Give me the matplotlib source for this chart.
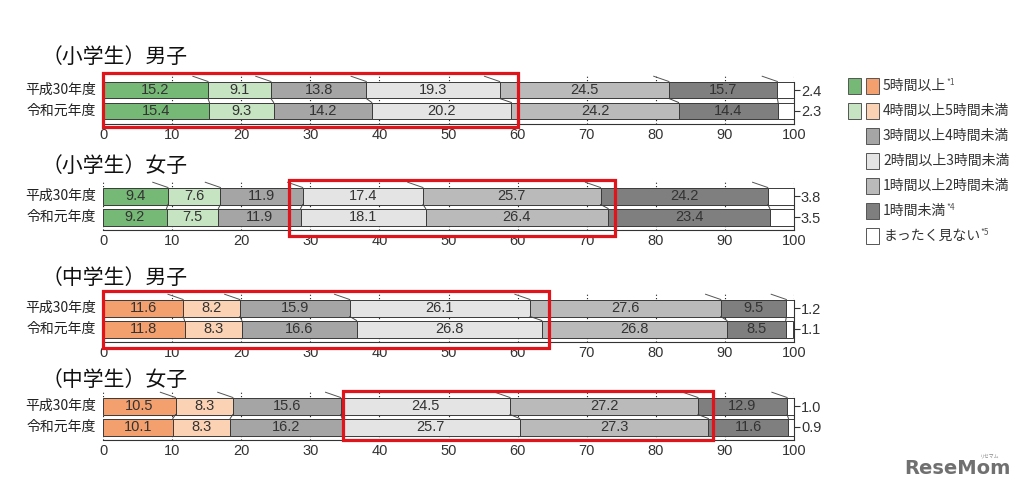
import numpy as np
import matplotlib.pyplot as plt
from matplotlib.patches import Rectangle

plt.rcParams['font.family'] = ['Noto Sans CJK JP', 'DejaVu Sans']

categories = ['5時間以上', '4時間以上5時間未満', '3時間以上4時間未満', '2時間以上3時間未満',
              '1時間以上2時間未満', '1時間未満', 'まったく見ない']
notes = ['*1', '', '', '', '', '*4', '*5']
years = ['平成30年度', '令和元年度']
titles = ['（小学生）男子', '（小学生）女子', '（中学生）男子', '（中学生）女子']

es_boys = [[15.2, 9.1, 13.8, 19.3, 24.5, 15.7, 2.4],
           [15.4, 9.3, 14.2, 20.2, 24.2, 14.4, 2.3]]
es_girls = [[9.4, 7.6, 11.9, 17.4, 25.7, 24.2, 3.8],
            [9.2, 7.5, 11.9, 18.1, 26.4, 23.4, 3.5]]
jh_boys = [[11.6, 8.2, 15.9, 26.1, 27.6, 9.5, 1.2],
           [11.8, 8.3, 16.6, 26.8, 26.8, 8.5, 1.1]]
jh_girls = [[10.5, 8.3, 15.6, 24.5, 27.2, 12.9, 1.0],
            [10.1, 8.3, 16.2, 25.7, 27.3, 11.6, 0.9]]
panels = [es_boys, es_girls, jh_boys, jh_girls]

# highlighted ranges (red boxes)
highlight = [(0, 60), (26.9, 74.1), (0, 64.5), (34.7, 88.3)]

greens = ['#76b976', '#c6e4c1']
oranges = ['#f3a06e', '#fbd2b3']
grays = ['#a5a5a5', '#e4e4e4', '#bababa', '#7f7f7f', '#ffffff']

W, H = 1021, 492
fig = plt.figure(figsize=(W / 100, H / 100), dpi=100)

row1 = [90, 196, 308, 406]      # pixel centre of first bar in each panel
title_y = [57, 166, 278, 380]
box_y = [(-17, 37), (-16, 40), (-17, 40), (-15, 34)]
unit = 21.0
bh = 17 / unit

for k, data in enumerate(panels):
    ax = fig.add_axes([103 / W, 1 - (row1[k] + 34) / H, 691 / W, 48 / H])
    colors = (greens if k < 2 else oranges) + grays
    for i, vals in enumerate(data):
        left = np.concatenate([[0], np.cumsum(vals)[:-1]])
        ax.barh(i, vals, left=left, height=bh, color=colors, edgecolor='#3a3a3a',
                linewidth=0.7, zorder=2)
        for j, (l, v) in enumerate(zip(left, vals)):
            if j < len(vals) - 1:
                ax.text(l + v / 2, i, f'{v:.1f}', ha='center', va='center', fontsize=10.5,
                        color='#333333', family='Liberation Sans', zorder=3)
        ax.text(-1, i, years[i], ha='right', va='center', fontsize=10, color='#222222')

    # connector lines between the two years
    c0 = np.cumsum(data[0])[:-1]
    c1 = np.cumsum(data[1])[:-1]
    for a, b in zip(c0, c1):
        ax.plot([a, b], [bh / 2, 1 - bh / 2], color='#444444', lw=0.7, zorder=3)
        ax.plot([a - 2.2, a], [-bh / 2 - 0.25, -bh / 2], color='#555555', lw=0.7,
                zorder=3, clip_on=False)

    x0, x1 = highlight[k]
    yt, yb = box_y[k]
    ax.add_patch(Rectangle((x0, yt / unit), x1 - x0, (yb - yt) / unit, fill=False,
                           edgecolor='#e0141b', lw=2.3, zorder=5, clip_on=False))

    ax.set_xlim(0, 100)
    ax.set_ylim(34 / unit, -14 / unit)
    ax.set_xticks(range(0, 101, 10))
    ax.tick_params(axis='x', length=0, pad=3, labelsize=10.5, labelcolor='#333333')
    for lab in ax.get_xticklabels():
        lab.set_family('Liberation Sans')
    ax.xaxis.grid(True, linestyle=(0, (1, 2)), color='#222222', lw=0.8)
    ax.set_axisbelow(True)
    ax.yaxis.tick_right()
    ax.set_yticks([0, 1])
    ax.set_yticklabels([f'{d[-1]:.1f}' for d in data], family='Liberation Sans')
    ax.tick_params(axis='y', direction='out', length=4, width=0.8, pad=1,
                   labelsize=10.5, labelcolor='#333333', color='#333333')
    for s in ['top', 'left']:
        ax.spines[s].set_visible(False)
    ax.spines['right'].set_bounds(-bh / 2, 34 / unit)
    ax.spines['right'].set_color('#333333')
    ax.spines['bottom'].set_color('#333333')
    ax.patch.set_alpha(0)

    fig.text(42 / W, 1 - title_y[k] / H, titles[k], fontsize=15, va='center',
             color='#111111')

# legend drawn in pixel coordinates
lg = fig.add_axes([0, 0, 1, 1], zorder=-1)
lg.set_xlim(0, W)
lg.set_ylim(H, 0)
lg.axis('off')
for i, (cat, note) in enumerate(zip(categories, notes)):
    yc = 86 + 25 * i
    if i < 2:
        lg.add_patch(Rectangle((848, yc - 8), 13, 16, facecolor=greens[i],
                               edgecolor='#555555', lw=0.7))
        col = oranges[i]
    else:
        col = grays[i - 2]
    lg.add_patch(Rectangle((866, yc - 8), 13, 16, facecolor=col,
                           edgecolor='#555555', lw=0.7))
    t = lg.text(883, yc, cat, fontsize=10, va='center', color='#333333')
    if note:
        lg.annotate(note, xy=(1.0, 0.75), xycoords=t, fontsize=6, va='center',
                    color='#555555')

lg.text(957, 468, 'ReseMom', fontsize=14, fontweight='bold', color='#707070',
        ha='center', va='center', family='DejaVu Sans')
lg.text(990, 456, 'リセマム', fontsize=3.5, color='#888888', ha='center', va='center')

fig.savefig('out.png', dpi=100)
